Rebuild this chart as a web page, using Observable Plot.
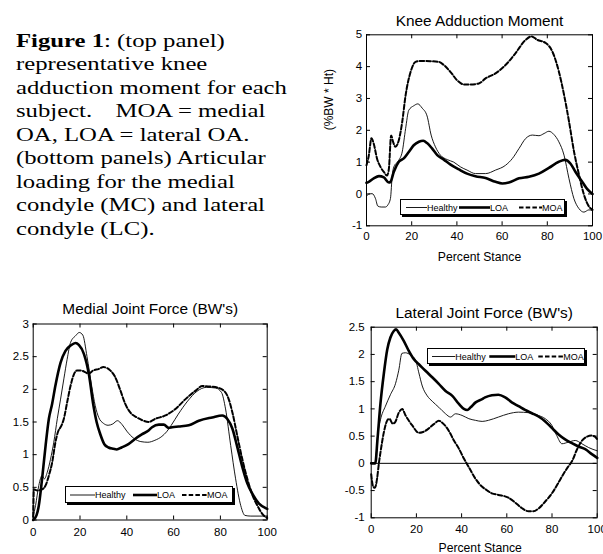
<!DOCTYPE html>
<html><head><meta charset="utf-8">
<script src="https://cdn.jsdelivr.net/npm/d3@7"></script>
<script src="https://cdn.jsdelivr.net/npm/@observablehq/plot@0.6"></script>
<style>
html,body{margin:0;padding:0;background:#fff;}
#root{position:relative;width:603px;height:554px;overflow:hidden;background:#fff;}
.pl{position:absolute;}
.pl svg{overflow:visible;max-width:none;}
#caption{position:absolute;left:16px;top:28.5px;font-family:"Liberation Serif","Times New Roman",serif;font-size:19px;line-height:23.5px;color:#000;white-space:nowrap;transform:scaleX(1.3);transform-origin:0 0;}
</style></head><body><div id="root">
<div id="caption"><b>Figure 1</b>: (top panel)<br>representative knee<br>adduction moment for each<br>subject.<span style="display:inline-block;width:18px"></span>MOA = medial<br>OA, LOA = lateral OA.<br>(bottom panels) Articular<br>loading for the medial<br>condyle (MC) and lateral<br>condyle (LC).</div>
<div id="p1" class="pl" style="left:320px;top:0px"></div>
<div id="p2" class="pl" style="left:0px;top:285px"></div>
<div id="p3" class="pl" style="left:300px;top:285px"></div>
</div>
<script>
// ---------- data ----------
const seriesNames = ["Healthy", "LOA", "MOA"];
const xTicks = [0, 20, 40, 60, 80, 100];
const kamTicks = [-1, 0, 1, 2, 3, 4, 5];
const mjfTicks = [0, 0.5, 1, 1.5, 2, 2.5, 3];
const ljfTicks = [-1, -0.5, 0, 0.5, 1, 1.5, 2, 2.5];

// Knee Adduction Moment (%BW * Ht)
const kamHealthyX = [0, 1, 2.5, 4, 5, 6.5, 8.4, 9.4, 10.6, 11.4, 12.1, 14.3, 15.8, 17.3, 18.7, 20.9, 22.7, 24.6, 26.8, 28.6, 30.5, 32.7, 35.7, 38.6, 41.6, 44.5, 48.2, 52.7, 57.1, 61.5, 64.5, 67.5, 70.4, 73.4, 76.3, 78.6, 80.7, 82.9, 85.1, 87.4, 89.6, 91.8, 94.0, 96.2, 98.4, 100];
const kamHealthyY = [-0.08, 0.0, 0.01, -0.15, -0.38, -0.41, -0.41, -0.35, -0.14, 0.59, 0.85, 1.06, 1.32, 2.05, 2.63, 2.77, 2.83, 2.7, 2.45, 1.85, 1.48, 1.22, 1.08, 1.0, 0.85, 0.75, 0.64, 0.64, 0.75, 0.9, 1.11, 1.43, 1.74, 1.85, 1.83, 1.9, 1.97, 1.87, 1.64, 1.22, 0.48, -0.15, -0.46, -0.57, -0.5, -0.52];
const kamLoaX = [0, 1, 3.2, 5.5, 7.7, 9.9, 10.6, 12.1, 14.3, 16.5, 18.7, 20.9, 23.2, 25.1, 26.8, 29, 31.3, 34.2, 37.2, 40.9, 44.5, 48.2, 52.7, 57.1, 60.1, 63, 67.5, 71.9, 76.3, 80.7, 85.1, 87.8, 90.3, 92.5, 95.5, 97.7, 100];
const kamLoaY = [0.35, 0.38, 0.49, 0.56, 0.52, 0.36, 0.38, 0.7, 1.01, 1.12, 1.32, 1.53, 1.64, 1.67, 1.6, 1.43, 1.22, 1.08, 0.92, 0.77, 0.64, 0.56, 0.5, 0.38, 0.33, 0.36, 0.49, 0.54, 0.64, 0.82, 1.01, 1.07, 0.95, 0.69, 0.38, 0.15, 0.0];
const kamMoaX = [0, 1, 2.2, 3.2, 4.7, 6.2, 7.7, 9.1, 9.9, 10.9, 11.8, 12.8, 14.3, 15.8, 17.3, 19.5, 21.7, 23.9, 28.3, 32, 34.2, 37.2, 40.1, 43.1, 46, 49.7, 52.7, 57.1, 61.5, 65.9, 70.4, 73, 75.6, 79.3, 82.2, 85.1, 87.4, 89.6, 91.8, 94, 96.2, 98.4, 100];
const kamMoaY = [0.9, 1.2, 1.75, 1.58, 1.1, 0.85, 0.69, 0.58, 0.79, 1.84, 1.63, 1.48, 1.69, 2.26, 3.1, 3.83, 4.15, 4.18, 4.17, 4.15, 4.05, 3.83, 3.57, 3.44, 3.44, 3.47, 3.63, 3.79, 4.05, 4.42, 4.84, 4.95, 4.84, 4.74, 4.48, 3.85, 3.12, 2.28, 1.34, 0.61, -0.02, -0.39, -0.5];

// Medial Joint Force (BW's)
const mjfHealthyX = [0, 1, 2.4, 3.8, 4.8, 6, 7.4, 8.8, 10.3, 11.7, 13.1, 14.5, 16, 18.1, 19.7, 21.2, 23, 25, 26.5, 28, 30, 32, 34, 36, 38, 40, 43, 46, 49, 52, 55, 57, 59, 62, 66, 70, 74, 78, 80.5, 82.2, 84.4, 86.5, 88.7, 90.5, 93, 100];
const mjfHealthyY = [0.05, 0.22, 0.53, 0.68, 0.63, 0.73, 0.93, 1.19, 1.55, 1.85, 2.16, 2.46, 2.72, 2.82, 2.87, 2.83, 2.5, 2.05, 1.75, 1.57, 1.48, 1.45, 1.47, 1.52, 1.46, 1.36, 1.25, 1.2, 1.19, 1.22, 1.28, 1.35, 1.45, 1.62, 1.82, 1.97, 2.03, 2.02, 1.95, 1.7, 1.14, 0.63, 0.22, 0.07, 0.06, 0.06];
const mjfLoaX = [0, 1.4, 2.4, 3.8, 5.3, 6.7, 8.1, 9.5, 11.7, 13.8, 16, 18.1, 19.5, 21.7, 23.8, 25.7, 27.1, 28.6, 30.4, 32.2, 34.3, 35.7, 37.8, 40.7, 43.5, 46.4, 49.3, 50.8, 53.7, 55.8, 57.9, 59.4, 62.2, 66.5, 70.8, 76.5, 80.8, 82.9, 85.1, 87.2, 89.3, 91.5, 93.7, 96.5, 100];
const mjfLoaY = [0.0, 0.07, 0.22, 0.63, 1.14, 1.55, 1.78, 2.06, 2.41, 2.59, 2.67, 2.71, 2.68, 2.54, 2.23, 1.76, 1.5, 1.32, 1.16, 1.11, 1.09, 1.08, 1.11, 1.16, 1.24, 1.31, 1.37, 1.42, 1.46, 1.46, 1.41, 1.42, 1.43, 1.45, 1.52, 1.57, 1.6, 1.55, 1.4, 1.12, 0.82, 0.56, 0.4, 0.25, 0.17];
const mjfMoaX = [0, 0.3, 1.7, 3.8, 5.3, 6.7, 8.1, 9.5, 10.5, 12, 13.1, 14.5, 16, 17.4, 18.8, 20.2, 22.4, 23.6, 25.7, 27.9, 30, 32.9, 35, 37.2, 39.3, 41.4, 44.3, 47.1, 49.3, 52.3, 56.5, 60.8, 65.1, 69.4, 72.3, 76.5, 80.1, 83, 85.1, 87.2, 89.3, 91.5, 93.7, 95.8, 98, 100];
const mjfMoaY = [0.05, 0.47, 0.45, 0.47, 0.53, 0.68, 0.88, 1.19, 1.34, 1.44, 1.55, 1.8, 2.06, 2.23, 2.29, 2.29, 2.26, 2.24, 2.29, 2.31, 2.34, 2.29, 2.19, 1.99, 1.78, 1.65, 1.57, 1.52, 1.5, 1.55, 1.6, 1.7, 1.85, 1.98, 2.05, 2.04, 2.01, 1.9, 1.65, 1.29, 0.94, 0.63, 0.38, 0.22, 0.09, 0.03];

// Lateral Joint Force (BW's)
const ljfHealthyX = [0, 1.8, 2.8, 4.1, 6.3, 8.5, 10.8, 12.2, 13.6, 15.2, 17.4, 19.6, 21.1, 22.6, 24.8, 27, 29.9, 32.9, 35.1, 37.3, 40.2, 43.2, 46.1, 49.1, 51.9, 56.3, 60.7, 65.2, 69.6, 74, 77, 79.9, 82.1, 84.4, 87.3, 90.3, 93.2, 96.2, 100];
const ljfHealthyY = [0, 0, 0.5, 0.8, 1.05, 1.26, 1.47, 1.71, 2.02, 2.03, 1.99, 1.9, 1.66, 1.42, 1.24, 1.14, 1.03, 0.91, 0.85, 0.91, 0.88, 0.82, 0.79, 0.77, 0.79, 0.85, 0.91, 0.94, 0.93, 0.88, 0.82, 0.7, 0.51, 0.36, 0.39, 0.42, 0.36, 0.29, 0.23];
const ljfLoaX = [0, 1.8, 2.8, 4.1, 5.6, 7.1, 8.5, 10, 11, 12.2, 14.4, 16.7, 18.9, 21.1, 24, 27, 29.9, 32.9, 35.9, 38.8, 41, 42.5, 44, 46.2, 49.1, 50.4, 53.4, 56.3, 59.3, 62.2, 65.2, 68.1, 71.1, 74, 77, 79.9, 82.9, 85.8, 88.8, 91.7, 94.7, 97.6, 100];
const ljfLoaY = [0, 0, 0.45, 1.1, 1.65, 2.09, 2.31, 2.43, 2.46, 2.4, 2.25, 2.06, 1.91, 1.82, 1.7, 1.58, 1.46, 1.33, 1.24, 1.09, 1.0, 0.98, 1.03, 1.12, 1.18, 1.21, 1.25, 1.26, 1.21, 1.12, 1.05, 0.98, 0.92, 0.86, 0.77, 0.65, 0.53, 0.44, 0.37, 0.31, 0.26, 0.17, 0.1];
const ljfMoaX = [0, 0.8, 1.6, 2.6, 3.4, 4.1, 5.5, 7, 8, 9.5, 10.5, 12.2, 13.7, 15.2, 18.1, 21.1, 22.6, 24.8, 27.7, 29.9, 32.1, 34.3, 36.6, 38.8, 41, 43.2, 46.1, 49.1, 50.4, 53.4, 56.3, 60.7, 63.7, 66.6, 69.6, 71.8, 74, 77, 80, 82.5, 85, 87, 89, 91, 93, 95, 97.5, 99, 100];
const ljfMoaY = [-0.2, -0.42, -0.45, -0.28, 0.0, 0.2, 0.55, 0.78, 0.82, 0.73, 0.75, 0.93, 1.0, 0.88, 0.7, 0.56, 0.57, 0.62, 0.72, 0.78, 0.72, 0.6, 0.42, 0.27, 0.09, -0.07, -0.28, -0.43, -0.47, -0.55, -0.58, -0.63, -0.72, -0.82, -0.88, -0.88, -0.83, -0.7, -0.55, -0.38, -0.2, -0.07, 0.05, 0.25, 0.4, 0.48, 0.51, 0.49, 0.44];

// ---------- helpers ----------
const rows = (xs, ys, s) => xs.map((x, i) => ({x, y: ys[i], s}));
const lineStyle = {
  Healthy: {w: 0.9, dash: null},
  LOA: {w: 2.6, dash: null},
  MOA: {w: 2, dash: "4.5,2.2"}
};
const fmt = d => String(d);
const sansFont = '"Liberation Sans", Arial, Helvetica, sans-serif';
const TICK = 4;

function panel(o) {
  const [ml, mr, mt, mb] = o.m;
  const fw = o.width - ml - mr, fh = o.height - mt - mb;
  const marks = [];
  if (o.zero) marks.push(Plot.ruleY([0], {stroke: "#000", strokeWidth: 1}));
  for (const s of seriesNames) {
    marks.push(Plot.line(o.data.filter(d => d.s === s), {
      x: "x", y: "y", stroke: "#000", strokeWidth: lineStyle[s].w,
      strokeDasharray: lineStyle[s].dash, curve: "monotone-x"
    }));
  }
  // inward tick marks on all four sides
  marks.push(Plot.ruleX(xTicks, {x: d => d, insetTop: fh - TICK, stroke: "#000"}));
  marks.push(Plot.ruleX(xTicks, {x: d => d, insetBottom: fh - TICK, stroke: "#000"}));
  marks.push(Plot.ruleY(o.yTicks, {y: d => d, insetRight: fw - TICK, stroke: "#000"}));
  marks.push(Plot.ruleY(o.yTicks, {y: d => d, insetLeft: fw - TICK, stroke: "#000"}));
  marks.push(Plot.frame({stroke: "#000", strokeWidth: 1}));
  marks.push(Plot.axisX({ticks: xTicks, anchor: "bottom", tickSize: 0, tickPadding: o.xPad, tickFormat: fmt, label: null}));
  marks.push(Plot.axisY({ticks: o.yTicks, anchor: "left", tickSize: 0, tickPadding: o.yPad, tickFormat: fmt, label: null}));
  marks.push(Plot.text([o.title], {frameAnchor: "top", dy: o.titleDy, fontSize: 15.4, lineAnchor: "middle"}));
  if (o.xLabel) marks.push(Plot.text([o.xLabel], {frameAnchor: "bottom", dy: o.xLabelDy, dx: o.xLabelDx || 0, fontSize: 12.2, lineAnchor: "middle"}));
  if (o.yLabel) marks.push(Plot.text([o.yLabel], {frameAnchor: "left", dx: o.yLabelDx, rotate: -90, fontSize: 12, lineAnchor: "middle"}));
  return Plot.plot({
    width: o.width, height: o.height,
    marginLeft: ml, marginRight: mr, marginTop: mt, marginBottom: mb,
    x: {domain: [0, 100]},
    y: {domain: o.yDomain},
    style: {fontFamily: sansFont, fontSize: "11.5px", background: "transparent", color: "#000", overflow: "visible"},
    marks
  });
}

function legend(host, left, top, w, h, pos) {
  const svg = d3.create("svg").attr("width", w).attr("height", h)
    .style("position", "absolute").style("left", left + "px").style("top", top + "px").style("overflow", "visible");
  svg.append("rect").attr("x", 2).attr("y", 2).attr("width", w - 2).attr("height", h - 2).attr("fill", "#000");
  svg.append("rect").attr("x", 0.5).attr("y", 0.5).attr("width", w - 3).attr("height", h - 3).attr("fill", "#fff").attr("stroke", "#000");
  const cy = (h - 2) / 2 + 0.5;
  seriesNames.forEach((s, i) => {
    const [x1, x2] = pos[i];
    svg.append("line").attr("x1", x1).attr("x2", x2).attr("y1", cy).attr("y2", cy)
      .attr("stroke", "#000").attr("stroke-width", lineStyle[s].w).attr("stroke-dasharray", lineStyle[s].dash);
    svg.append("text").attr("x", x2).attr("y", cy).attr("dy", "0.35em")
      .attr("font-family", sansFont).attr("font-size", 9).attr("fill", "#000").text(s);
  });
  host.appendChild(svg.node());
}

// ---------- panels ----------
const kamData = [...rows(kamHealthyX, kamHealthyY, "Healthy"), ...rows(kamLoaX, kamLoaY, "LOA"), ...rows(kamMoaX, kamMoaY, "MOA")];
const mjfData = [...rows(mjfHealthyX, mjfHealthyY, "Healthy"), ...rows(mjfLoaX, mjfLoaY, "LOA"), ...rows(mjfMoaX, mjfMoaY, "MOA")];
const ljfData = [...rows(ljfHealthyX, ljfHealthyY, "Healthy"), ...rows(ljfLoaX, ljfLoaY, "LOA"), ...rows(ljfMoaX, ljfMoaY, "MOA")];

const p1 = document.getElementById("p1");
p1.appendChild(panel({
  width: 283, height: 270, m: [46, 11, 34.3, 44.7],
  yDomain: [-1, 5], yTicks: kamTicks, data: kamData,
  title: "Knee Adduction Moment", titleDy: -13.6,
  xLabel: "Percent Stance", xLabelDy: 31.7,
  yLabel: "(%BW * Ht)", yLabelDx: -37.7,
  xPad: 5.6, yPad: 4.3
}));
legend(p1, 80, 199.3, 167, 18, [[6, 27], [59, 90], [119, 142]]);

const p2 = document.getElementById("p2");
p2.appendChild(panel({
  width: 300, height: 269, m: [32.7, 33.3, 38.5, 34.5],
  yDomain: [0, 3], yTicks: mjfTicks, data: mjfData,
  title: "Medial Joint Force (BW's)", titleDy: -14.5,
  xPad: 8.1, yPad: 4.4
}));
legend(p2, 65, 201, 170, 19, [[5, 30], [68, 92], [117, 142]]);

const p3 = document.getElementById("p3");
p3.appendChild(panel({
  width: 303, height: 269, m: [70.7, 6.3, 41.7, 36.7],
  yDomain: [-1, 2.5], yTicks: ljfTicks, data: ljfData,
  title: "Lateral Joint Force (BW's)", titleDy: -13.7,
  xLabel: "Percent Stance", xLabelDy: 30.7, xLabelDx: -4,
  xPad: 6.6, yPad: 6.5, zero: true
}));
legend(p3, 126.7, 62.7, 160, 18, [[5, 28.3], [62.3, 88.3], [111.3, 136.3]]);
</script>
</body></html>
